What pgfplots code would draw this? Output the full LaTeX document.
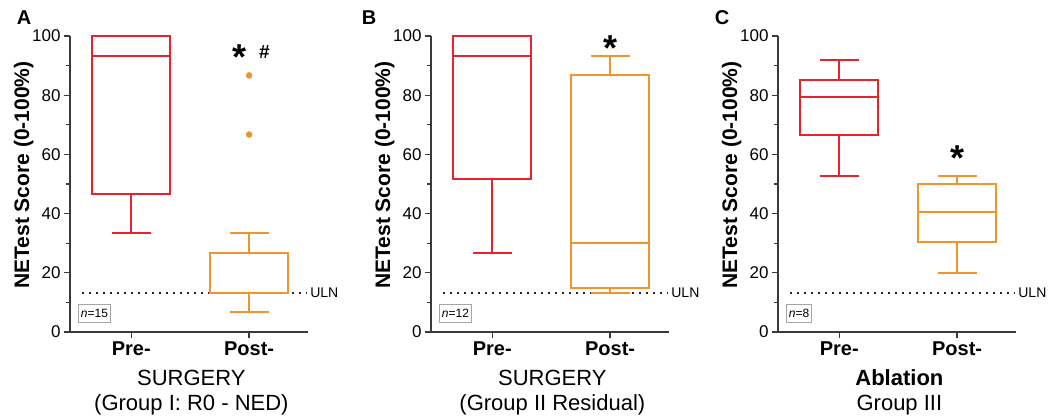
\documentclass[border=0pt]{standalone}
\usepackage{fontspec}
\setmainfont{Liberation Sans}
\usepackage{pgfplots}
\pgfplotsset{compat=1.18}

\definecolor{boxred}{HTML}{E8232B}
\definecolor{boxorange}{HTML}{F0952B}
\definecolor{axisgray}{HTML}{3A3A3A}

\pgfplotsset{
  netpanel/.style={
    scale only axis, width=238pt, height=296pt,
    xmin=-0.52, xmax=1.5, ymin=0, ymax=100,
    axis x line*=bottom, axis y line*=left,
    axis line style={axisgray, line width=1.3pt},
    tick style={axisgray, line width=1.2pt},
    tick align=outside,
    major tick length=6pt, minor tick length=4pt,
    ytick={0,20,...,100}, minor y tick num=1,
    xtick={0,1}, xticklabels={Pre-,Post-},
    x tick label style={font=\fontsize{20}{24}\selectfont\bfseries},
    y tick label style={font=\fontsize{17}{20}\selectfont},
    /pgf/number format/assume math mode=true,
    ylabel={NETest Score (0-100\%)},
    ylabel style={font=\fontsize{21}{25}\selectfont\bfseries,
      at={(axis description cs:-0.195,0.53)}, anchor=center},
    xlabel style={font=\fontsize{22}{25}\selectfont, align=center,
      at={(axis description cs:0.51,0)}, anchor=north, yshift=-34.5pt},
    clip=false,
  },
  redbox/.style={boxred, line width=2pt},
  orangebox/.style={boxorange, line width=2pt},
  uln/.style={black!85, line width=1.8pt, dash pattern=on 1.8pt off 5.2pt},
}

% Box-and-whisker glyph:
% #1 style, #2 position, #3 lower whisker, #4 lower quartile,
% #5 median, #6 upper quartile, #7 upper whisker
\newcommand{\bx}[7]{%
  \pgfmathsetmacro\bxl{#2-0.33}\pgfmathsetmacro\bxr{#2+0.33}%
  \pgfmathsetmacro\cpl{#2-0.165}\pgfmathsetmacro\cpr{#2+0.165}%
  \addplot[#1, line join=miter] coordinates {(\bxl,#4) (\bxr,#4) (\bxr,#6) (\bxl,#6)} -- cycle;
  \addplot[#1] coordinates {(\bxl,#5) (\bxr,#5)};
  \addplot[#1] coordinates {(#2,#4) (#2,#3)};
  \addplot[#1] coordinates {(\cpl,#3) (\cpr,#3)};
  \addplot[#1] coordinates {(#2,#6) (#2,#7)};
  \addplot[#1] coordinates {(\cpl,#7) (\cpr,#7)};
}

% upper limit of normal and the sample-size tag, shared by all panels
\newcommand{\ulnline}{%
  \addplot[uln] coordinates {(-0.42,13.3) (1.49,13.3)};
  \node[anchor=west, font=\fontsize{14}{16}\selectfont] at (axis cs:1.49,13.3) {ULN};
}
\newcommand{\ntag}[1]{%
  \node[draw=gray!70, line width=0.8pt, inner xsep=2.5pt, inner ysep=5pt,
        anchor=south west, font=\fontsize{12}{14}\selectfont]
    at ([xshift=8pt,yshift=9pt]axis description cs:0,0) {\textit{n}=#1};
}
\newcommand{\sig}[3]{%
  \node[anchor=base, font=\fontsize{36}{40}\selectfont\bfseries, yshift=-20.5pt]
    at (axis cs:#1,#2) {#3};
}

\begin{document}
\begin{tikzpicture}
\useasboundingbox (0,0) rectangle (1063pt,416pt);

% ---------------- A: surgery, group I ----------------
\begin{axis}[netpanel, at={(70pt,84pt)}, anchor=south west,
  xlabel={SURGERY\\(Group I: R0 - NED)}]
  \ulnline
  \bx{redbox}{0}{33.3}{46.7}{93.3}{100}{100}
  \bx{orangebox}{1}{6.7}{13.3}{13.3}{26.7}{33.3}
  \addplot[only marks, mark=*, mark size=3pt, boxorange] coordinates {(1,66.7) (1,86.7)};
  \ntag{15}
  \sig{0.915}{95.5}{*}
  \node[font=\fontsize{19}{22}\selectfont\bfseries] at (axis cs:1.13,94.6) {\#};
  \node[font=\fontsize{20}{24}\selectfont\bfseries]
    at ([xshift=-46pt,yshift=18pt]axis description cs:0,1) {A};
\end{axis}

% ---------------- B: surgery, group II ----------------
\begin{axis}[netpanel, at={(431pt,84pt)}, anchor=south west,
  xlabel={SURGERY\\(Group II Residual)}]
  \ulnline
  \bx{redbox}{0}{26.7}{51.7}{93.3}{100}{100}
  \bx{orangebox}{1}{13.3}{15}{30}{86.7}{93.3}
  \ntag{12}
  \sig{1}{98.6}{*}
  \node[font=\fontsize{20}{24}\selectfont\bfseries]
    at ([xshift=-62pt,yshift=18pt]axis description cs:0,1) {B};
\end{axis}

% ---------------- C: ablation, group III ----------------
\begin{axis}[netpanel, at={(778pt,84pt)}, anchor=south west,
  xlabel={\textbf{Ablation}\\Group III}]
  \ulnline
  \bx{redbox}{0}{52.7}{66.7}{79.5}{85.3}{92}
  \bx{orangebox}{1}{20}{30.5}{40.7}{50}{52.7}
  \ntag{8}
  \sig{1}{61.5}{*}
  \node[font=\fontsize{20}{24}\selectfont\bfseries]
    at ([xshift=-56pt,yshift=18pt]axis description cs:0,1) {C};
\end{axis}
\end{tikzpicture}
\end{document}
